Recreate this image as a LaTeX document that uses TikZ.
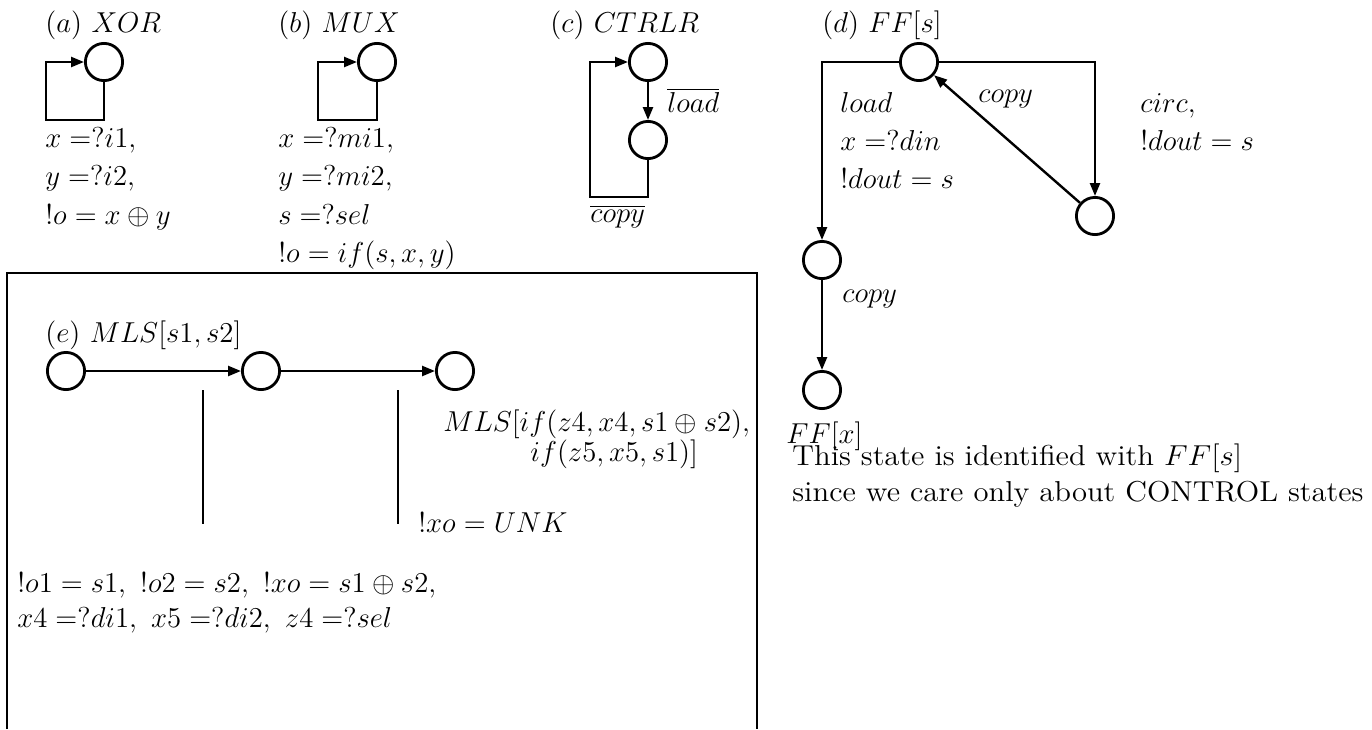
\documentclass[tikz,border=0pt]{standalone}
\usetikzlibrary{arrows.meta}
\newcommand{\widetext}[1]{\scalebox{1.065}[1.0]{#1}}
\begin{document}
\begin{tikzpicture}[x=0.5pt,y=-0.5pt,
  every node/.style={font=\fontsize{14.4}{18}\selectfont, inner sep=0pt},
  state/.style={circle, draw, line width=1.4pt, minimum size=18.6pt, inner sep=0pt},
  lbl/.style={anchor=base west},
  conn/.style={line width=1.2pt, -{Triangle[length=6.5pt,width=5pt]}},
  thinline/.style={line width=0.9pt}]
\useasboundingbox (0,0) rectangle (1372,729);

% ---------- (a) XOR ----------
\node[lbl] (ta) at (45,32) {$(a)\ XOR$};
\node[state] (a1) at (104,62) {};
\coordinate (aBL) at (46,120);
\draw[conn] (a1.south) |- (aBL) |- (a1.west);
\node[lbl] (ta1) at (45,147) {$x =?i1,$};
\node[lbl] (ta2) at (45,185.5) {$y =?i2,$};
\node[lbl] (ta3) at (45,224) {$!o = x \oplus y$};

% ---------- (b) MUX ----------
\node[lbl] (tb) at (278,32) {$(b)\ MUX$};
\node[state] (b1) at (377,62) {};
\coordinate (bBL) at (318,120);
\draw[conn] (b1.south) |- (bBL) |- (b1.west);
\node[lbl] (tb1) at (278,147) {$x =?mi1,$};
\node[lbl] (tb2) at (278,185.5) {$y =?mi2,$};
\node[lbl] (tb3) at (278,224) {$s =?sel$};
\node[lbl] (tb4) at (278,262.5) {$!o = if(s,x,y)$};

% ---------- (c) CTRLR ----------
\node[lbl] (tc) at (550,32) {$(c)\ CTRLR$};
\node[state] (c1) at (648,62) {};
\node[state] (c2) at (648,140) {};
\coordinate (cBL) at (590,197);
\draw[conn] (c1) -- (c2);
\draw[conn] (c2.south) |- (cBL) |- (c1.west);
\node[lbl] (tc1) at (667,112) {$\overline{load}$};
\node[lbl] (tc2) at (590,222) {$\overline{copy}$};

% ---------- (d) FF[s] ----------
\node[lbl] (td) at (822,32) {$(d)\ FF[s]$};
\node[state] (d1) at (919,62) {};
\node[state] (d4) at (1095,216) {};
\node[state] (d2) at (822,260) {};
\node[state] (d3) at (822,390) {};
\draw[conn] (d1.west) -| (d2.north);
\draw[conn] (d1.east) -| (d4.north);
\draw[conn] (d4) -- (d1);
\draw[conn] (d2) -- (d3);
\node[lbl] (td1) at (840,112) {$load$};
\node[lbl] (td2) at (840,150) {$x =?din$};
\node[lbl] (td3) at (840,188) {$!dout = s$};
\node[lbl] (td4) at (978,102) {$copy$};
\node[lbl] (td5) at (1140,112) {$circ,$};
\node[lbl] (td6) at (1140,150) {$!dout = s$};
\node[lbl] (td7) at (842,302) {$copy$};
\node[lbl] (td8) at (786,443) {$FF[x]$};
\node[lbl] (td9) at (792,465) {\widetext{This state is identified with $FF[s]$}};
\node[lbl] (td10) at (792,501) {\widetext{since we care only about CONTROL states}};

% ---------- (e) MLS[s1,s2] ----------
\draw[thinline] (7,729) -- (7,273) -- (757,273) -- (757,729);
\node[lbl] (te) at (45,342) {$(e)\ MLS[s1,s2]$};
\node[state] (e1) at (66,371) {};
\node[state] (e2) at (261,371) {};
\node[state] (e3) at (455,371) {};
\draw[conn] (e1) -- (e2);
\draw[conn] (e2) -- (e3);
\coordinate (eT1) at (203,390);
\coordinate (eB1) at (203,524);
\coordinate (eT2) at (398,390);
\coordinate (eB2) at (398,524);
\draw[thinline] (eT1) -- (eB1);
\draw[thinline] (eT2) -- (eB2);
\node[lbl] (te1) at (443,431) {$MLS[if(z4,x4,s1 \oplus s2),$};
\node[lbl] (te2) at (530,461) {$if(z5,x5,s1)]$};
\node[lbl] (te3) at (418,532) {$!xo = UNK$};
\node[lbl] (te4) at (17,592) {$!o1 = s1,\ !o2 = s2,\ !xo = s1 \oplus s2,$};
\node[lbl] (te5) at (17,627) {$x4 =?di1,\ x5 =?di2,\ z4 =?sel$};
\end{tikzpicture}
\end{document}
